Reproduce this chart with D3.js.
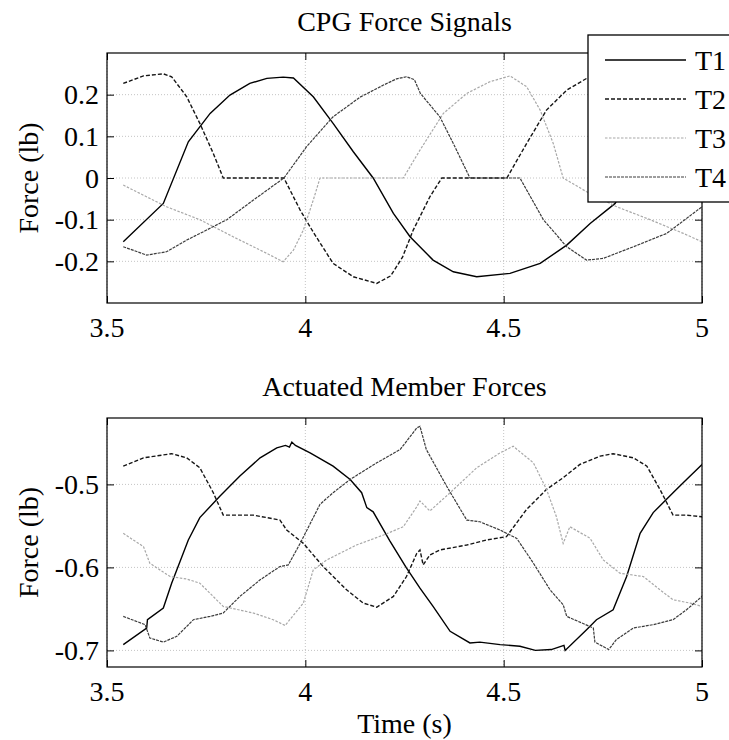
<!DOCTYPE html>
<html>
<head>
<meta charset="utf-8">
<script src="https://cdn.jsdelivr.net/npm/d3@7"></script>
<style>
  body { margin: 0; background: #fff; }
  text { font-family: "Liberation Serif", "Times New Roman", serif; fill: #000; }
</style>
</head>
<body>
<script>
"use strict";

// ---- data (time s, force lb) ----
var timeTicks = [3.5, 4, 4.5, 5];
var timeLabels = ["3.5", "4", "4.5", "5"];
var seriesNames = ["T1", "T2", "T3", "T4"];

var cpgTicks = [-0.2, -0.1, 0, 0.1, 0.2];
var cpgLabels = ["-0.2", "-0.1", "0", "0.1", "0.2"];
var cpgT1 = [[3.541,-0.153],[3.642,-0.061],[3.705,0.087],[3.76,0.155],[3.81,0.199],[3.86,0.227],[3.903,0.239],
  [3.944,0.242],[3.97,0.24],[4.02,0.195],[4.07,0.131],[4.121,0.063],[4.171,0.0],[4.222,-0.085],[4.264,-0.141],
  [4.322,-0.197],[4.373,-0.225],[4.432,-0.237],[4.516,-0.229],[4.592,-0.205],[4.659,-0.161],[4.718,-0.109],
  [4.781,-0.061],[4.84,0.04],[4.9,0.14],[4.95,0.2],[5.0,0.23]];
var cpgT2 = [[3.541,0.227],[3.592,0.245],[3.642,0.25],[3.663,0.243],[3.701,0.195],[3.734,0.131],[3.768,0.059],
  [3.793,0.0],[3.946,0.0],[3.987,-0.077],[4.02,-0.13],[4.07,-0.205],[4.121,-0.237],[4.18,-0.253],[4.215,-0.235],
  [4.245,-0.19],[4.272,-0.125],[4.314,-0.045],[4.344,0.0],[4.508,0.0],[4.558,0.083],[4.608,0.163],[4.659,0.211],
  [4.709,0.239],[4.75,0.25],[4.79,0.22],[4.84,0.12],[4.88,0.0],[5.0,0.0]];
var cpgT3 = [[3.541,-0.017],[3.65,-0.069],[3.734,-0.1],[3.818,-0.141],[3.903,-0.181],[3.944,-0.201],[3.97,-0.173],
  [3.995,-0.125],[4.02,-0.053],[4.037,0.0],[4.247,0.0],[4.289,0.067],[4.348,0.155],[4.407,0.203],[4.465,0.231],
  [4.516,0.245],[4.558,0.219],[4.592,0.163],[4.625,0.083],[4.65,0.0],[4.709,-0.033],[4.785,-0.069],
  [4.869,-0.1],[4.953,-0.133],[5.0,-0.153]];
var cpgT4 = [[3.541,-0.165],[3.6,-0.185],[3.65,-0.177],[3.701,-0.149],[3.751,-0.125],[3.802,-0.1],[3.869,-0.053],
  [3.946,0.0],[4.003,0.075],[4.07,0.147],[4.138,0.194],[4.197,0.223],[4.23,0.238],[4.255,0.243],[4.275,0.236],
  [4.29,0.203],[4.339,0.147],[4.373,0.083],[4.415,0.0],[4.541,0.0],[4.6,-0.1],[4.659,-0.165],[4.709,-0.197],
  [4.751,-0.193],[4.827,-0.165],[4.911,-0.133],[5.0,-0.069]];

var memberTicks = [-0.7, -0.6, -0.5];
var memberLabels = ["-0.7", "-0.6", "-0.5"];
var memberT1 = [[3.541,-0.693],[3.6,-0.673],[3.602,-0.663],[3.642,-0.649],[3.663,-0.619],[3.705,-0.567],
  [3.734,-0.54],[3.785,-0.514],[3.835,-0.49],[3.886,-0.468],[3.928,-0.456],[3.95,-0.453],[3.96,-0.455],
  [3.966,-0.449],[3.975,-0.453],[4.012,-0.462],[4.07,-0.478],[4.113,-0.494],[4.142,-0.51],[4.155,-0.528],
  [4.171,-0.533],[4.213,-0.568],[4.254,-0.6],[4.289,-0.625],[4.322,-0.647],[4.365,-0.677],[4.415,-0.691],
  [4.44,-0.69],[4.491,-0.693],[4.541,-0.695],[4.58,-0.7],[4.62,-0.699],[4.652,-0.694],[4.655,-0.7],
  [4.709,-0.675],[4.734,-0.663],[4.776,-0.651],[4.81,-0.611],[4.844,-0.559],[4.877,-0.534],[4.927,-0.51],
  [4.961,-0.494],[5.0,-0.476]];
var memberT2 = [[3.541,-0.478],[3.592,-0.468],[3.663,-0.463],[3.701,-0.468],[3.734,-0.48],[3.768,-0.51],
  [3.793,-0.537],[3.869,-0.537],[3.936,-0.543],[3.953,-0.555],[3.995,-0.571],[4.045,-0.599],[4.104,-0.627],
  [4.146,-0.643],[4.18,-0.648],[4.222,-0.635],[4.255,-0.611],[4.281,-0.583],[4.289,-0.579],[4.297,-0.597],
  [4.314,-0.585],[4.339,-0.579],[4.407,-0.573],[4.457,-0.567],[4.507,-0.563],[4.558,-0.53],[4.608,-0.506],
  [4.65,-0.492],[4.692,-0.476],[4.743,-0.466],[4.776,-0.463],[4.827,-0.468],[4.861,-0.478],[4.894,-0.506],
  [4.927,-0.537],[4.961,-0.537],[5.0,-0.539]];
var memberT3 = [[3.541,-0.559],[3.592,-0.575],[3.608,-0.595],[3.659,-0.611],[3.701,-0.614],[3.734,-0.619],
  [3.793,-0.647],[3.869,-0.655],[3.919,-0.663],[3.949,-0.67],[3.995,-0.643],[4.02,-0.603],[4.054,-0.591],
  [4.129,-0.573],[4.197,-0.561],[4.247,-0.551],[4.281,-0.527],[4.289,-0.52],[4.314,-0.532],[4.365,-0.51],
  [4.432,-0.48],[4.491,-0.462],[4.524,-0.454],[4.575,-0.474],[4.608,-0.506],[4.633,-0.539],[4.65,-0.571],
  [4.667,-0.551],[4.718,-0.565],[4.751,-0.591],[4.793,-0.607],[4.852,-0.611],[4.894,-0.627],[4.927,-0.639],
  [4.97,-0.643],[5.0,-0.647]];
var memberT4 = [[3.541,-0.659],[3.596,-0.669],[3.608,-0.685],[3.642,-0.69],[3.676,-0.683],[3.718,-0.663],
  [3.76,-0.659],[3.793,-0.655],[3.835,-0.635],[3.886,-0.615],[3.936,-0.599],[3.957,-0.597],[3.987,-0.571],
  [4.037,-0.524],[4.07,-0.51],[4.113,-0.494],[4.18,-0.474],[4.239,-0.458],[4.281,-0.432],[4.289,-0.43],
  [4.305,-0.458],[4.356,-0.502],[4.407,-0.543],[4.44,-0.545],[4.491,-0.555],[4.533,-0.565],[4.575,-0.595],
  [4.617,-0.627],[4.65,-0.645],[4.659,-0.659],[4.726,-0.673],[4.73,-0.69],[4.765,-0.699],[4.784,-0.687],
  [4.827,-0.673],[4.877,-0.669],[4.927,-0.663],[4.961,-0.651],[5.0,-0.635]];

// ---- styles (matlab '-', '--', ':', '-.' after a low-res export) ----
var styles = {
  T1: { color: "#000", dash: null, width: 1.4 },
  T2: { color: "#151515", dash: "4,2", width: 1.4 },
  T3: { color: "#a8a8a8", dash: "2.5,1.5", width: 1.2 },
  T4: { color: "#3c3c3c", dash: "3,1", width: 1.2 }
};

var left = 107, width = 595, fontSize = 28;
var serif = "\"Liberation Serif\", \"Times New Roman\", serif";
var svg = d3.select("body").append("svg")
    .attr("width", 729)
    .attr("height", 740);

function drawPanel(top, height, yDomain, yTicks, yLabels, series, title, id) {
  var x = d3.scaleLinear().domain([3.5, 5]).range([0, width]);
  var y = d3.scaleLinear().domain(yDomain).range([height, 0]);
  var g = svg.append("g").attr("transform", "translate(" + left + "," + top + ")");

  svg.append("clipPath").attr("id", id)
    .append("rect").attr("width", width).attr("height", height);

  // dotted grid
  g.selectAll(".gx").data(timeTicks).enter().append("line")
    .attr("x1", function(d) { return x(d); }).attr("x2", function(d) { return x(d); })
    .attr("y1", 0).attr("y2", height)
    .attr("stroke", "#c4c4c4").attr("stroke-width", 1).attr("stroke-dasharray", "1,2");
  g.selectAll(".gy").data(yTicks).enter().append("line")
    .attr("x1", 0).attr("x2", width)
    .attr("y1", function(d) { return y(d); }).attr("y2", function(d) { return y(d); })
    .attr("stroke", "#c4c4c4").attr("stroke-width", 1).attr("stroke-dasharray", "1,2");

  var line = d3.line()
    .x(function(d) { return x(d[0]); })
    .y(function(d) { return y(d[1]); });

  var lines = g.append("g").attr("clip-path", "url(#" + id + ")");
  seriesNames.forEach(function(name, i) {
    var s = styles[name];
    lines.append("path")
      .datum(series[i])
      .attr("d", line)
      .attr("fill", "none")
      .attr("stroke", s.color)
      .attr("stroke-width", s.width)
      .attr("stroke-dasharray", s.dash);
  });

  // ticks point inward on all four sides, like matlab with box on
  g.append("g").attr("transform", "translate(0," + height + ")")
    .call(d3.axisBottom(x).tickValues(timeTicks).tickSizeInner(-7).tickSizeOuter(0).tickFormat(""));
  g.append("g")
    .call(d3.axisLeft(y).tickValues(yTicks).tickSizeInner(-7).tickSizeOuter(0).tickFormat(""));
  g.append("g")
    .call(d3.axisTop(x).tickValues(timeTicks).tickSizeInner(-7).tickSizeOuter(0).tickFormat(""));
  g.append("g").attr("transform", "translate(" + width + ",0)")
    .call(d3.axisRight(y).tickValues(yTicks).tickSizeInner(-7).tickSizeOuter(0).tickFormat(""));
  g.selectAll(".domain").remove();
  g.selectAll(".tick line").attr("stroke", "#000").attr("stroke-width", 1);
  g.selectAll(".tick text").remove();

  // tick labels
  g.selectAll(".xl").data(timeTicks).enter().append("text")
    .attr("x", function(d) { return x(d); })
    .attr("y", height + 34)
    .attr("text-anchor", "middle")
    .attr("font-family", serif)
    .style("font-size", fontSize + "px")
    .text(function(d, i) { return timeLabels[i]; });
  g.selectAll(".yl").data(yTicks).enter().append("text")
    .attr("x", -8)
    .attr("y", function(d) { return y(d); })
    .attr("dy", "0.34em")
    .attr("text-anchor", "end")
    .attr("font-family", serif)
    .style("font-size", fontSize + "px")
    .text(function(d, i) { return yLabels[i]; });

  g.append("rect")
    .attr("width", width).attr("height", height)
    .attr("fill", "none").attr("stroke", "#000").attr("stroke-width", 1.2);

  g.append("text")
    .attr("x", width / 2).attr("y", -22)
    .attr("text-anchor", "middle")
    .style("font-size", fontSize + "px")
    .text(title);

  g.append("text")
    .attr("transform", "translate(-78," + height / 2 + ") rotate(-90)")
    .attr("text-anchor", "middle")
    .attr("dy", "0.32em")
    .style("font-size", fontSize + "px")
    .text("Force (lb)");

  return { g: g, x: x, y: y, height: height };
}

var topPanel = drawPanel(53, 250, [-0.3, 0.3], cpgTicks, cpgLabels,
  [cpgT1, cpgT2, cpgT3, cpgT4], "CPG Force Signals", "clipTop");
var bottomPanel = drawPanel(418, 249, [-0.72, -0.42], memberTicks, memberLabels,
  [memberT1, memberT2, memberT3, memberT4], "Actuated Member Forces", "clipBottom");

bottomPanel.g.append("text")
  .attr("x", width / 2).attr("y", bottomPanel.height + 66)
  .attr("text-anchor", "middle")
  .style("font-size", fontSize + "px")
  .text("Time (s)");

// legend, sits over the top-right corner and runs off the page
var legend = svg.append("g").attr("transform", "translate(588,35)");
legend.append("rect")
  .attr("width", 160).attr("height", 167)
  .attr("fill", "#fff").attr("stroke", "#000").attr("stroke-width", 1.3);
seriesNames.forEach(function(name, i) {
  var s = styles[name];
  var row = 25 + i * 39;
  legend.append("line")
    .attr("x1", 17).attr("x2", 98).attr("y1", row).attr("y2", row)
    .attr("stroke", s.color).attr("stroke-width", s.width)
    .attr("stroke-dasharray", s.dash);
  legend.append("text")
    .attr("x", 107).attr("y", row).attr("dy", "0.34em")
    .style("font-size", fontSize + "px")
    .text(name);
});
</script>
</body>
</html>
